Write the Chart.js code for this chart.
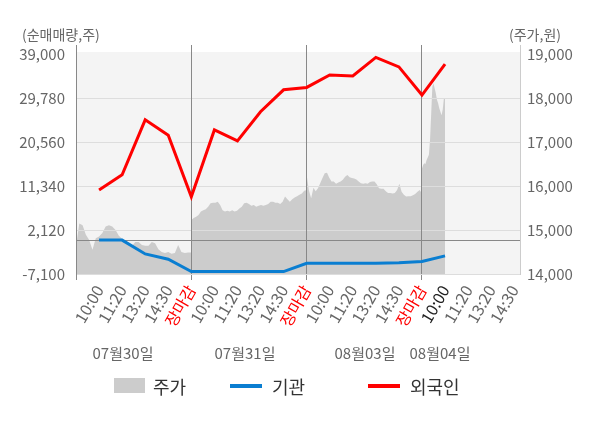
<!DOCTYPE html>
<html>
<head>
<meta charset="utf-8">
<script src="https://cdn.jsdelivr.net/npm/chart.js@4.4.1/dist/chart.umd.min.js"></script>
<style>
  html, body { margin: 0; padding: 0; background: #fff; }
  body { width: 600px; height: 428px; position: relative; overflow: hidden;
         font-family: 'Noto Sans CJK KR', 'Noto Sans', sans-serif; }
  #chart { position: absolute; left: 0; top: 0; }
  .t { position: absolute; white-space: nowrap; line-height: 1; }
  .axis-title { font-size: 14px; color: #666; top: 27px; }
  .day { font-size: 15px; color: #666; top: 345px; transform: translateX(-50%); }
  .legend { font-size: 18px; color: #333; top: 377px; }
  .sw { position: absolute; }
</style>
</head>
<body>
<canvas id="chart" width="600" height="428"></canvas>

<div class="t axis-title" style="left:22px">(순매매량,주)</div>
<div class="t axis-title" style="left:509px">(주가,원)</div>

<div id="days"></div>

<div class="sw" style="left:114px; top:378px; width:31px; height:15px; background:#cccccc"></div>
<div class="t legend" style="left:153px">주가</div>
<div class="sw" style="left:230px; top:384px; width:32px; height:4px; background:#0a7ed1"></div>
<div class="t legend" style="left:272px">기관</div>
<div class="sw" style="left:368px; top:384px; width:32px; height:4px; background:#ff0000"></div>
<div class="t legend" style="left:410px">외국인</div>

<script>
// --- DATA ---
const xLabels = ['10:00', '11:20', '13:20', '14:30', '장마감',
                 '10:00', '11:20', '13:20', '14:30', '장마감',
                 '10:00', '11:20', '13:20', '14:30', '장마감',
                 '10:00', '11:20', '13:20', '14:30'];
const dayLabels = ['07월30일', '07월31일', '08월03일', '08월04일'];
const currentSlot = 16; // 08/04 10:00, drawn dark

// net buying (shares), one value per slot label
const foreign = [10500, 13700, 25200, 22000, 9100,
                 23100, 20800, 26900, 31500, 32000,
                 34600, 34400, 38300, 36300, 30400,
                 36900];
const institution = [0, 0, -2900, -4000, -6600,
                     -6600, -6600, -6600, -6600, -4850,
                     -4850, -4850, -4850, -4750, -4480,
                     -3300];

// intraday price (won)
const priceDay1 = [14620, 15150, 15110, 14890, 14770, 14550, 14810, 14850, 14930, 15080,
                   15110, 15080, 15000, 14870, 14800, 14740, 14660, 14640, 14730, 14730,
                   14660, 14640, 14640, 14730, 14700, 14560, 14500, 14480, 14500, 14460,
                   14480, 14660, 14500, 14480, 14490, 14490];
const priceDay2 = [15230, 15270, 15300, 15340, 15420, 15450, 15470, 15530, 15610, 15620,
                   15620, 15640, 15570, 15450, 15420, 15440, 15420, 15450, 15420, 15440,
                   15490, 15530, 15610, 15620, 15590, 15550, 15570, 15530, 15550, 15570,
                   15550, 15570, 15590, 15640, 15640, 15620, 15620, 15590, 15640, 15760,
                   15700, 15640, 15700, 15740, 15770, 15800, 15830, 15890, 15910];
const priceDay3 = [16250, 15900, 15720, 15960, 15880, 15950, 16060, 16180, 16290, 16300,
                   16190, 16100, 16100, 16050, 16080, 16100, 16140, 16210, 16250, 16200,
                   16180, 16170, 16150, 16100, 16060, 16050, 16060, 16050, 16090, 16100,
                   16100, 16040, 15950, 15940, 15940, 15880, 15840, 15840, 15830, 15840,
                   15910, 16050, 15870, 15800, 15760, 15770, 15770, 15790, 15820, 15870,
                   15910, 15830];
const priceDay4 = [16400, 16480, 16520, 16500, 16590, 16650, 16710, 17050, 17650, 18260,
                   18330, 18220, 18110, 17960, 17880, 17770, 17690, 17610, 17740, 17990,
                   17990];
const priceDays = [priceDay1, priceDay2, priceDay3, priceDay4];
const dayDataSpan = [5, 5, 5, 1]; // slots covered by each day's samples (08/04 up to 10:00)

const leftTicks = [-7100, 2120, 11340, 20560, 29780, 39000];
const rightTicks = [14000, 15000, 16000, 17000, 18000, 19000];

// --- BUILD POINTS ---
const pricePoints = [];
priceDays.forEach((arr, d) => {
  arr.forEach((v, i) => {
    pricePoints.push({ x: d * 5 + dayDataSpan[d] * i / (arr.length - 1), y: v });
  });
});
const foreignPoints = foreign.map((v, i) => ({ x: i + 1, y: v }));
const instPoints = institution.map((v, i) => ({ x: i + 1, y: v }));

// day labels under the axis
const dayPos = [123, 245, 365, 440];
const daysDiv = document.getElementById('days');
dayLabels.forEach((t, i) => {
  const el = document.createElement('div');
  el.className = 't day';
  el.style.left = dayPos[i] + 'px';
  el.textContent = t;
  daysDiv.appendChild(el);
});

const FONT = "'Noto Sans CJK KR', 'Noto Sans', sans-serif";
const fmt = v => v.toLocaleString('en-US');

// plot background
const bgPlugin = {
  id: 'bg',
  beforeDraw(chart) {
    const { ctx, chartArea } = chart;
    const top = chart.scales.yL.getPixelForValue(39000) - 2;
    ctx.save();
    ctx.fillStyle = '#f4f4f4';
    ctx.fillRect(chartArea.left, top, chartArea.right - chartArea.left, chartArea.bottom - top);
    ctx.restore();
  }
};

// grid sits over the price area but under the lines
const gridOverArea = {
  id: 'gridOverArea',
  afterDatasetDraw(chart, args) {
    if (args.index !== 2) return;
    chart.scales.yL.drawGrid(chart.chartArea);
    chart.scales.x.drawGrid(chart.chartArea);
  }
};

new Chart(document.getElementById('chart'), {
  type: 'line',
  data: {
    datasets: [
      {
        label: '외국인', data: foreignPoints, yAxisID: 'yL',
        borderColor: '#ff0000', borderWidth: 3, pointRadius: 0, tension: 0, order: 1
      },
      {
        label: '기관', data: instPoints, yAxisID: 'yL',
        borderColor: '#0a7ed1', borderWidth: 3, pointRadius: 0, tension: 0, order: 2
      },
      {
        label: '주가', data: pricePoints, yAxisID: 'yR',
        borderWidth: 0, borderColor: 'transparent', backgroundColor: '#cccccc',
        fill: 'start', pointRadius: 0, tension: 0, order: 3
      }
    ]
  },
  options: {
    responsive: false,
    animation: false,
    layout: { padding: { top: 45, left: 0, right: 0, bottom: 0 } },
    plugins: { legend: { display: false }, tooltip: { enabled: false } },
    scales: {
      x: {
        type: 'linear', min: 0, max: 19.25,
        afterBuildTicks: s => { s.ticks = xLabels.map((l, i) => ({ value: i })).concat([{ value: 19 }]); },
        afterFit: s => { s.height = 154; },
        ticks: {
          autoSkip: false, minRotation: 60, maxRotation: 60, padding: 2,
          font: { family: FONT, size: 16 },
          callback: v => (v === 0 ? '' : xLabels[v - 1]),
          color: c => {
            const v = c.tick ? c.tick.value : 0;
            if (xLabels[v - 1] === '장마감') return '#ff0000';
            if (v === currentSlot) return '#222';
            return '#666';
          }
        },
        grid: {
          color: c => (c.tick && c.tick.value % 5 === 0 ? '#888' : 'transparent'),
          tickLength: 6
        },
        border: { color: '#999' }
      },
      yL: {
        position: 'left', min: -7100, max: 40890,
        afterBuildTicks: s => { s.ticks = leftTicks.concat([0]).map(v => ({ value: v })); },
        afterFit: s => { s.width = 76; },
        ticks: {
          padding: 11, color: '#666', font: { family: FONT, size: 15 },
          callback: v => (v === 0 ? '' : fmt(v))
        },
        grid: {
          drawTicks: false,
          color: c => {
            const v = c.tick ? c.tick.value : null;
            if (v === 0) return '#888';
            if (v === 39000) return 'transparent';
            return '#dddddd';
          }
        },
        border: { color: '#888' }
      },
      yR: {
        position: 'right', min: 14000, max: 19205,
        afterBuildTicks: s => { s.ticks = rightTicks.map(v => ({ value: v })); },
        afterFit: s => { s.width = 80; },
        ticks: { padding: 7, color: '#666', font: { family: FONT, size: 15 }, callback: v => fmt(v) },
        grid: { display: false, drawTicks: false },
        border: { color: '#cccccc' }
      }
    }
  },
  plugins: [bgPlugin, gridOverArea]
});
</script>
</body>
</html>
